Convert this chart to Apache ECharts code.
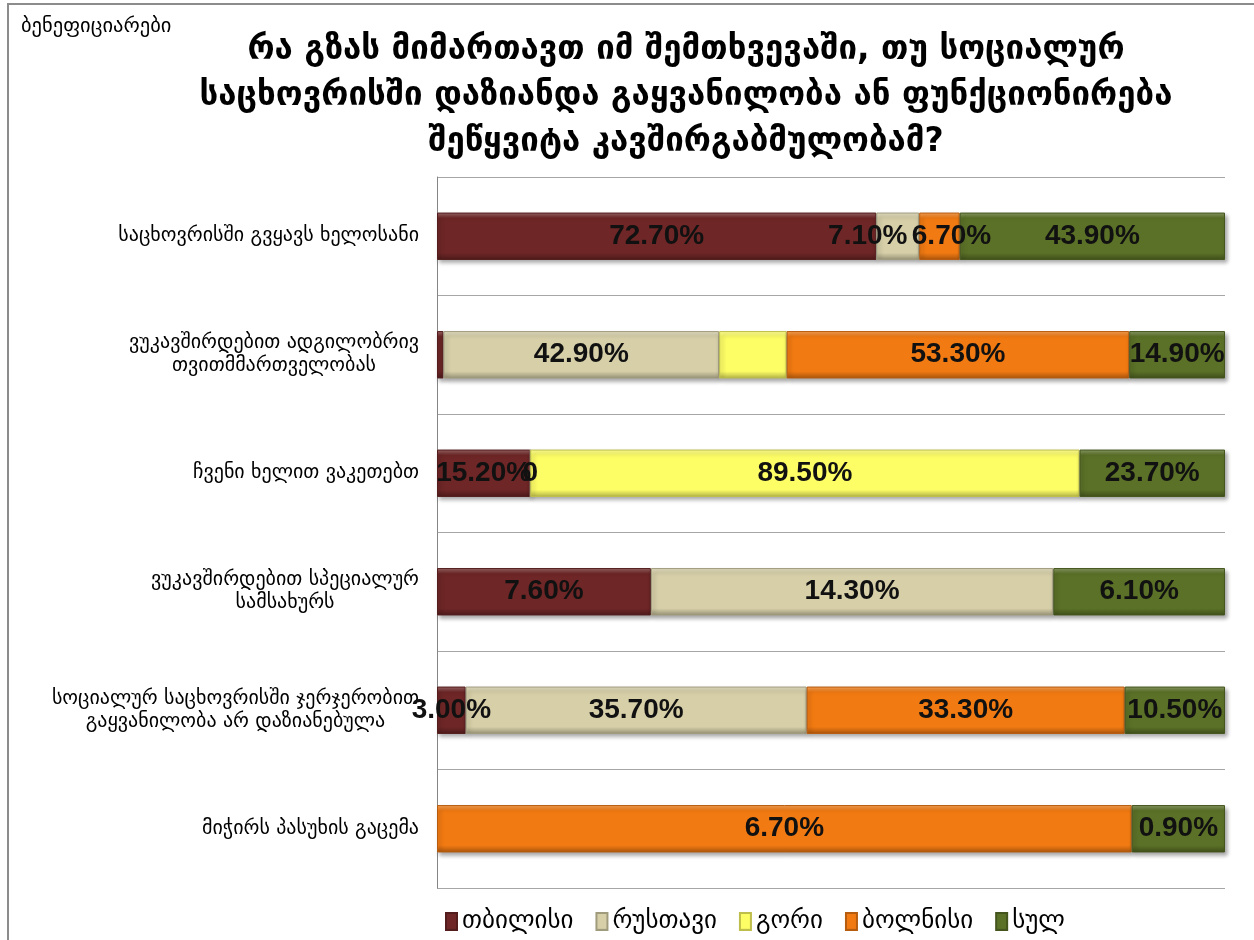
<!DOCTYPE html>
<html>
<head>
<meta charset="utf-8">
<script src="https://cdn.jsdelivr.net/npm/echarts@6/dist/echarts.min.js"></script>
<style>
  html, body { margin: 0; padding: 0; background: #fff; }
  #chart { width: 1254px; height: 940px; }
</style>
</head>
<body>
<div id="chart"></div>
<script>
const categories = [
  'საცხოვრისში გვყავს ხელოსანი',
  'ვუკავშირდებით ადგილობრივ\nთვითმმართველობას',
  'ჩვენი ხელით ვაკეთებთ',
  'ვუკავშირდებით სპეციალურ\nსამსახურს',
  'სოციალურ საცხოვრისში ჯერჯერობით\nგაყვანილობა არ დაზიანებულა',
  'მიჭირს პასუხის გაცემა'
];
const cities = ['თბილისი', 'რუსთავი', 'გორი', 'ბოლნისი', 'სულ'];

// raw percentages per city, one entry per answer (null = no bar)
const tbilisi = [72.7, 1.0, 15.2, 7.6, 3.0, null];
const rustavi = [7.1, 42.9, 0, 14.3, 35.7, null];
const gori    = [null, 10.5, 89.5, null, null, null];
const bolnisi = [6.7, 53.3, null, null, 33.3, 6.7];
const sul     = [43.9, 14.9, 23.7, 6.1, 10.5, 0.9];

// points whose data label was removed in the original: [series, row]
const noLabel = [[0, 1], [2, 1]];

const raw = [tbilisi, rustavi, gori, bolnisi, sul];
const colors = ['#6e2626', '#d6cfa8', '#fdfd66', '#f27a12', '#5b7127'];

// each row is drawn as 100% stacked
const totals = categories.map((c, i) => raw.reduce((s, arr) => s + (arr[i] || 0), 0));

function shade(hex, k) {
  const n = parseInt(hex.slice(1), 16);
  const f = v => Math.max(0, Math.min(255, Math.round(k > 0 ? v + (255 - v) * k : v * (1 + k))));
  return 'rgb(' + f(n >> 16) + ',' + f((n >> 8) & 255) + ',' + f(n & 255) + ')';
}

function bevel(hex) {
  return new echarts.graphic.LinearGradient(0, 0, 0, 1, [
    { offset: 0, color: shade(hex, 0.3) },
    { offset: 0.12, color: hex },
    { offset: 0.85, color: hex },
    { offset: 1, color: shade(hex, -0.3) }
  ]);
}

// the two crowded labels in the first row were pushed apart in the original
const labelNudge = { '1-0': -30, '3-0': 12 };

const series = raw.map((arr, si) => ({
  name: cities[si],
  type: 'bar',
  stack: 'all',
  barCategoryGap: '60%',
  data: arr.map((v, i) => v == null ? null : v / totals[i] * 100),
  itemStyle: {
    color: bevel(colors[si]),
    borderColor: shade(colors[si], -0.25),
    borderWidth: 1,
    shadowColor: 'rgba(0,0,0,0.35)',
    shadowBlur: 4,
    shadowOffsetX: 2,
    shadowOffsetY: 3
  },
  label: {
    show: true,
    position: 'inside',
    color: '#111',
    fontFamily: 'Liberation Sans',
    fontWeight: 'bold',
    fontSize: 28,
    formatter: p => {
      const v = arr[p.dataIndex];
      if (v == null) return '';
      if (noLabel.some(n => n[0] === si && n[1] === p.dataIndex)) return '';
      if (v === 0) return '0';
      return v.toFixed(2) + '%';
    }
  },
  labelLayout: p => ({ dx: labelNudge[p.seriesIndex + '-' + p.dataIndex] || 0 }),
  emphasis: { disabled: true }
}));

const chart = echarts.init(document.getElementById('chart'));
chart.setOption({
  animation: false,
  graphic: [{
    type: 'rect',
    shape: { x: 8, y: 4, width: 1280, height: 960 },
    style: { fill: 'none', stroke: '#8c8c8c', lineWidth: 2 }
  }, {
    type: 'text',
    left: 21, top: 16,
    style: { text: 'ბენეფიციარები', font: '20.5px "DejaVu Sans"', fill: '#000' }
  }],
  title: {
    text: 'რა გზას მიმართავთ იმ შემთხვევაში, თუ სოციალურ\nსაცხოვრისში დაზიანდა გაყვანილობა ან ფუნქციონირება\nშეწყვიტა კავშირგაბმულობამ?',
    left: 681,
    textAlign: 'center',
    top: 22,
    textStyle: {
      fontFamily: 'DejaVu Sans',
      fontWeight: 'bold',
      fontSize: 33,
      lineHeight: 46,
      color: '#000'
    }
  },
  legend: {
    left: 440,
    top: 904,
    itemWidth: 11,
    itemHeight: 17,
    itemGap: 22,
    icon: 'rect',
    textStyle: { fontFamily: 'DejaVu Sans', fontSize: 25, color: '#000' },
    data: cities
  },
  grid: { left: 437, right: 29, top: 177, bottom: 52 },
  xAxis: {
    type: 'value',
    min: 0,
    max: 100,
    show: false
  },
  yAxis: {
    type: 'category',
    inverse: true,
    data: categories,
    axisLine: { show: true, lineStyle: { color: '#868686', width: 1 } },
    axisTick: { show: false },
    splitLine: { show: true, lineStyle: { color: '#a6a6a6', width: 1 } },
    axisLabel: {
      margin: 18,
      align: 'right',
      formatter: v => v.split('\n').map(l => '{c|' + l + '}').join('\n'),
      rich: {
        c: {
          align: 'center',
          fontFamily: 'DejaVu Sans',
          fontSize: 20,
          lineHeight: 23,
          color: '#000'
        }
      }
    }
  },
  series: series
});
</script>
</body>
</html>
